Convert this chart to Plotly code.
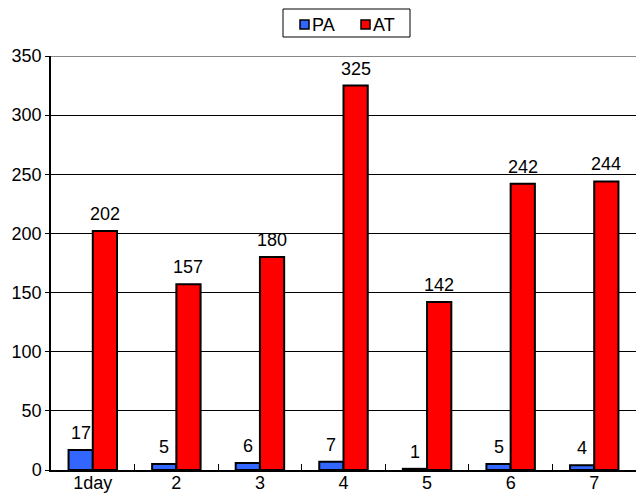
import plotly.graph_objects as go

categories = ["1day", "2", "3", "4", "5", "6", "7"]
pa_values = [17, 5, 6, 7, 1, 5, 4]
at_values = [202, 157, 180, 325, 142, 242, 244]

FONT = "Liberation Sans, Arial, sans-serif"
FS = 18
BARGAP = 0.42

fig = go.Figure()
fig.add_trace(go.Bar(
    name="PA", x=categories, y=pa_values,
    marker=dict(color="#3366ff", line=dict(color="black", width=2)),
))
fig.add_trace(go.Bar(
    name="AT", x=categories, y=at_values,
    marker=dict(color="#ff0000", line=dict(color="black", width=2)),
))

# value labels above each bar (grouped bars: each takes half the group width)
half = (1 - BARGAP) / 4
annotations = []
for i, (pa, at) in enumerate(zip(pa_values, at_values)):
    for off, v in ((-half, pa), (half, at)):
        annotations.append(dict(
            x=i + off, y=v, xref="x", yref="y", text=str(v), showarrow=False,
            yanchor="bottom", yshift=5, font=dict(family=FONT, size=FS, color="black"),
        ))

# legend drawn as a framed box with swatches
legend_items = [("PA", "#3366ff", 300), ("AT", "#ff0000", 361)]
shapes = [dict(type="rect", xref="paper", yref="paper",
               x0=(283 - 51) / 585, x1=(410 - 51) / 585,
               y0=(470 - 37) / 414, y1=(470 - 9) / 414,
               line=dict(color="black", width=1), fillcolor="white")]
for name, color, px in legend_items:
    shapes.append(dict(type="rect", xref="paper", yref="paper",
                       x0=(px - 51) / 585, x1=(px + 9 - 51) / 585,
                       y0=(470 - 29) / 414, y1=(470 - 20) / 414,
                       line=dict(color="black", width=1.5), fillcolor=color))
    annotations.append(dict(x=(px + 10 - 51) / 585, y=(470 - 24.5) / 414,
                            xref="paper", yref="paper", text=name, showarrow=False,
                            xanchor="left", yanchor="middle",
                            font=dict(family=FONT, size=FS, color="black")))

# top gridline at 350 is grey
shapes.append(dict(type="line", xref="paper", yref="y", x0=0, x1=1, y0=350, y1=350,
                   line=dict(color="#888888", width=2), layer="above"))

fig.update_layout(
    width=638, height=496,
    margin=dict(l=51, r=2, t=56, b=26, autoexpand=False),
    paper_bgcolor="white", plot_bgcolor="white",
    barmode="group", bargap=BARGAP, bargroupgap=0,
    font=dict(family=FONT, size=FS, color="black"),
    showlegend=False,
    annotations=annotations,
    shapes=shapes,
    xaxis=dict(
        showgrid=False, showline=True, linecolor="black", linewidth=2,
        ticks="inside", tickson="boundaries", ticklen=6, tickcolor="black",
        tickfont=dict(family=FONT, size=FS), automargin=False,
        ticklabelstandoff=-5,
    ),
    yaxis=dict(
        range=[0, 350], dtick=50, showgrid=True, gridcolor="black", gridwidth=1,
        showline=True, linecolor="black", linewidth=1.5,
        ticks="outside", ticklen=4, tickcolor="black",
        zeroline=False, tickfont=dict(family=FONT, size=FS), automargin=False,
    ),
)

fig.write_html("out.html")
